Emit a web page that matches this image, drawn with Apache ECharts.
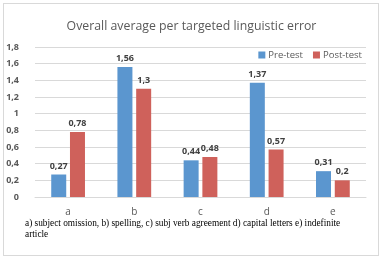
<!DOCTYPE html>
<html><head><meta charset="utf-8">
<script src="https://cdn.jsdelivr.net/npm/echarts@6/dist/echarts.min.js"></script>
<style>
html,body{margin:0;padding:0;background:#fff;}
#frame{position:absolute;left:3px;top:3px;width:374px;height:251px;border:1px solid #d9d9d9;}
#c{position:absolute;left:0;top:0;width:383px;height:262px;}
</style></head><body>
<div id="frame"></div>
<div id="c"></div>
<script>
const categories = ['a','b','c','d','e'];
const preTest = [0.27, 1.56, 0.44, 1.37, 0.31];
const postTest = [0.78, 1.3, 0.48, 0.57, 0.2];
const titleText = 'Overall average per targeted linguistic error';
const footnote = 'a) subject omission, b) spelling, c) subj verb agreement d) capital letters e) indefinite\narticle';
const fmt = v => String(v).replace('.', ',');
const chart = echarts.init(document.getElementById('c'));
const lbl = {show:true, position:'top', distance:4, color:'#404040', fontSize:9, fontWeight:'bold', fontFamily:'Open Sans', formatter:p=>fmt(p.value)};
chart.setOption({
  animation:false,
  title:{text:titleText, left:'center', top:15, textStyle:{fontSize:12.3, fontWeight:'normal', color:'#595959', fontFamily:'Open Sans'}},
  legend:{right:16, top:45, itemWidth:7, itemHeight:7, itemGap:10, icon:'rect',
    textStyle:{fontSize:9.5, color:'#595959', fontFamily:'Open Sans', padding:[0,0,0,-2]},
    data:['Pre-test','Post-test']},
  grid:{left:35, right:17, top:47, bottom:65},
  xAxis:{type:'category', data:categories, axisTick:{show:false},
    axisLine:{lineStyle:{color:'#d9d9d9'}},
    axisLabel:{color:'#595959', fontSize:10, fontFamily:'Open Sans', margin:10}},
  yAxis:{type:'value', min:0, max:1.8, interval:0.2,
    axisLabel:{color:'#595959', fontSize:9, fontWeight:'bold', fontFamily:'Open Sans', margin:16, formatter:v=>fmt(Math.round(v*10)/10)},
    splitLine:{lineStyle:{color:'#d9d9d9'}}, axisLine:{show:false}},
  graphic:[{type:'text', left:25, top:218, style:{text:footnote, font:'9.3px "Liberation Serif"', fill:'#000', lineHeight:11}}],
  series:[
    {name:'Pre-test', type:'bar', data:preTest, barWidth:15, barGap:'25%', itemStyle:{color:'#5B96CF'}, label:lbl},
    {name:'Post-test', type:'bar', data:postTest, barWidth:15, itemStyle:{color:'#CF615B'}, label:lbl}
  ]
});
</script></body></html>
